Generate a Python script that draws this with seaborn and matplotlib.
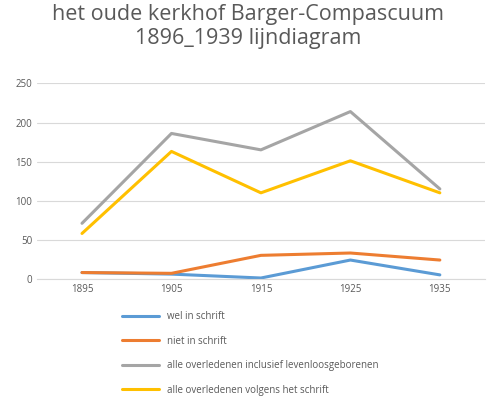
import matplotlib.pyplot as plt
import seaborn as sns
import pandas as pd

years = ["1895", "1905", "1915", "1925", "1935"]
wel = [8, 6, 1, 24, 5]
niet = [8, 7, 30, 33, 24]
alle = [71, 186, 165, 214, 115]
volgens = [58, 163, 110, 151, 110]

names = ["wel in schrift", "niet in schrift",
         "alle overledenen inclusief levenloosgeborenen",
         "alle overledenen volgens het schrift"]
colors = ["#5B9BD5", "#ED7D31", "#A5A5A5", "#FFC000"]

df = pd.DataFrame({"jaar": years * 4,
                   "waarde": wel + niet + alle + volgens,
                   "serie": sum([[n] * 5 for n in names], [])})

sns.set_style("white")
plt.rcParams['font.family'] = ['Open Sans', 'DejaVu Sans']
fig = plt.figure(figsize=(4.97, 4.07), dpi=100)
ax = fig.add_axes([0.075, 0.315, 0.9, 0.48])
sns.lineplot(data=df, x="jaar", y="waarde", hue="serie", palette=colors,
             linewidth=2.2, ax=ax, sort=False)
ax.set_ylim(0, 250)
ax.set_yticks(range(0, 251, 50))
ax.set_xlim(-0.5, 4.5)
ax.grid(axis="y", color="#d9d9d9", linewidth=0.8)
for s in ["top", "right", "left"]:
    ax.spines[s].set_visible(False)
ax.spines["bottom"].set_color("#d9d9d9")
ax.tick_params(labelsize=7, colors="#595959", length=0)
ax.set_xlabel("")
ax.set_ylabel("")
ax.legend(loc="upper left", bbox_to_anchor=(0.17, -0.12), frameon=False,
          fontsize=7, labelcolor="#595959", handlelength=3.8, labelspacing=1.4)
fig.suptitle("het oude kerkhof Barger-Compascuum\n1896_1939 lijndiagram",
             y=0.99, fontsize=15.5, color="#595959")
fig.savefig("out.png", dpi=100)
